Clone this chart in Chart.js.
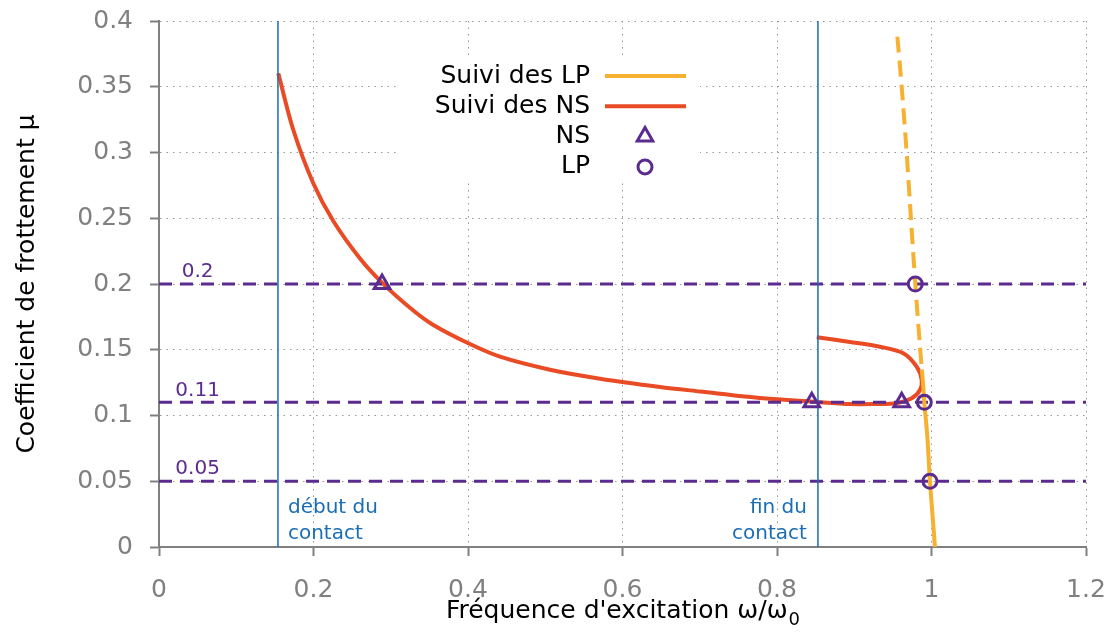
<!DOCTYPE html>
<html lang="fr">
<head>
<meta charset="UTF-8">
<title>Suivi des LP et des NS</title>
<script src="https://cdn.jsdelivr.net/npm/chart.js"></script>
<style>
    html, body { margin: 0; padding: 0; background: #ffffff; }
    .chart-container { position: relative; width: 1115px; height: 633px; }
</style>
</head>
<body>
<div class="chart-container"><canvas id="frottementChart"></canvas></div>
<script>
// courbe de suivi des NS (branche basse puis repli)
const nsX = [0.1544, 0.1739, 0.1997, 0.2256, 0.2602, 0.2896, 0.3292, 0.3551, 0.4004, 0.4414, 0.5061, 0.5709, 0.6485, 0.7003, 0.7823, 0.847, 0.8945, 0.9247, 0.955, 0.9744, 0.9851, 0.9873, 0.9808, 0.9635, 0.9333, 0.8945, 0.8514];
const nsY = [0.3602, 0.3171, 0.2766, 0.2479, 0.2194, 0.2005, 0.1798, 0.1688, 0.1549, 0.1447, 0.1348, 0.128, 0.1217, 0.1183, 0.1131, 0.1105, 0.1087, 0.1087, 0.1093, 0.1131, 0.1194, 0.127, 0.1371, 0.1473, 0.1523, 0.1559, 0.1595];

// courbe de suivi des LP : partie instable (pointillés) puis stable
const lpDashX = [0.9558, 0.9614, 0.9679, 0.9735, 0.979, 0.9851, 0.9875];
const lpDashY = [0.3881, 0.35, 0.2994, 0.2487, 0.2005, 0.1523, 0.135];
const lpSolidX = [0.9875, 0.9894, 0.9907, 0.9946, 0.998, 1.0045];
const lpSolidY = [0.135, 0.1219, 0.11, 0.0839, 0.05, 0];

// points NS et LP calculés
const nsPtX = [0.2887, 0.845, 0.9614];
const nsPtY = [0.2, 0.11, 0.11];
const lpPtX = [0.979, 0.9907, 0.998];
const lpPtY = [0.2, 0.11, 0.05];

// niveaux de frottement étudiés
const muLevels = [0.2, 0.11, 0.05];
const muLabels = ['0.2', '0.11', '0.05'];
const muLabelX = 0.05;

// début / fin du contact
const contactX = [0.154, 0.853];
const contactLabels = [['début du', 'contact'], ['fin du', 'contact']];

const legendLabels = ['Suivi des LP', 'Suivi des NS', 'NS', 'LP'];
const xTitle = "Fréquence d'excitation ω/ω";
const xTitleSub = '0';
const yTitle = 'Coefficient de frottement μ';

const FONT = "'DejaVu Sans', Verdana, sans-serif";
const ORANGE = '#f6b131';
const RED = '#e94b25';
const PURPLE = '#5c2b8f';
const BLUE = '#1a6db4';
const GREY = '#808080';

const pts = (xs, ys) => xs.map((x, i) => ({ x: x, y: ys[i] }));
const fmt = v => String(Math.round(v * 100) / 100);

const datasets = [
    {
        label: 'LP', data: pts(lpPtX, lpPtY), showLine: false,
        pointStyle: 'circle', pointRadius: 7, pointBorderWidth: 3,
        borderColor: PURPLE, backgroundColor: 'rgba(0,0,0,0)'
    },
    {
        label: 'NS', data: pts(nsPtX, nsPtY), showLine: false,
        pointStyle: 'triangle', pointRadius: 9, pointBorderWidth: 3,
        borderColor: PURPLE, backgroundColor: 'rgba(0,0,0,0)'
    },
    {
        label: 'Suivi des LP (instable)', data: pts(lpDashX, lpDashY), showLine: true,
        borderColor: ORANGE, borderWidth: 4, borderDash: [16, 8], pointRadius: 0, tension: 0.3
    },
    {
        label: 'Suivi des LP', data: pts(lpSolidX, lpSolidY), showLine: true,
        borderColor: ORANGE, borderWidth: 4, pointRadius: 0, tension: 0.3
    }
];

contactX.forEach((cx, i) => {
    datasets.push({
        label: 'contact ' + i, data: [{ x: cx, y: 0 }, { x: cx, y: 0.4 }], showLine: true,
        borderColor: BLUE, borderWidth: 1.5, pointRadius: 0
    });
});

muLevels.forEach(mu => {
    datasets.push({
        label: 'mu ' + mu, data: [{ x: 0, y: mu }, { x: 1.2, y: mu }], showLine: true,
        borderColor: PURPLE, borderWidth: 3, borderDash: [13, 8], pointRadius: 0
    });
});

datasets.push({
    label: 'Suivi des NS', data: pts(nsX, nsY), showLine: true,
    borderColor: RED, borderWidth: 4, pointRadius: 0, tension: 0.3
});

// légende, titres et annotations dessinés à la main (style gnuplot)
const annotations = {
    id: 'annotations',
    afterDatasetsDraw(chart) {
        const ctx = chart.ctx;
        const area = chart.chartArea;
        const xs = chart.scales.x, ys = chart.scales.y;
        ctx.save();

        // niveaux de mu
        ctx.font = '20px ' + FONT;
        ctx.fillStyle = PURPLE;
        ctx.textAlign = 'center';
        ctx.textBaseline = 'middle';
        muLevels.forEach((mu, i) => {
            ctx.fillText(muLabels[i], xs.getPixelForValue(muLabelX), ys.getPixelForValue(mu) - 12);
        });

        // contact
        ctx.fillStyle = BLUE;
        const y0 = ys.getPixelForValue(0);
        contactX.forEach((cx, i) => {
            const px = xs.getPixelForValue(cx);
            ctx.textAlign = i === 0 ? 'left' : 'right';
            const tx = i === 0 ? px + 10 : px - 11;
            contactLabels[i].forEach((t, k) => {
                ctx.fillText(t, tx, y0 - 39 + k * 26);
            });
        });

        // titre de l'axe x avec indice
        ctx.fillStyle = '#000000';
        ctx.textBaseline = 'alphabetic';
        ctx.textAlign = 'left';
        ctx.font = '25px ' + FONT;
        const wMain = ctx.measureText(xTitle).width;
        ctx.font = '18px ' + FONT;
        const wSub = ctx.measureText(xTitleSub).width;
        const tx0 = (area.left + area.right) / 2 - (wMain + wSub) / 2;
        ctx.font = '25px ' + FONT;
        ctx.fillText(xTitle, tx0, 618);
        ctx.font = '18px ' + FONT;
        ctx.fillText(xTitleSub, tx0 + wMain + 1, 625);

        // légende
        ctx.fillStyle = '#ffffff';
        ctx.fillRect(400, 57, 300, 126);
        ctx.font = '25px ' + FONT;
        ctx.textBaseline = 'middle';
        ctx.textAlign = 'right';
        const sx0 = 605, sx1 = 686, mx = 645;
        legendLabels.forEach((t, i) => {
            const ly = 76 + i * 30.3;
            ctx.fillStyle = '#000000';
            ctx.fillText(t, 590, ly);
            if (i < 2) {
                ctx.strokeStyle = i === 0 ? ORANGE : RED;
                ctx.lineWidth = 4;
                ctx.beginPath();
                ctx.moveTo(sx0, ly);
                ctx.lineTo(sx1, ly);
                ctx.stroke();
            } else {
                ctx.fillStyle = 'rgba(0,0,0,0)';
                ctx.strokeStyle = PURPLE;
                ctx.lineWidth = 3;
                Chart.helpers.drawPoint(ctx, {
                    pointStyle: i === 2 ? 'triangle' : 'circle',
                    radius: i === 2 ? 9 : 7,
                    borderWidth: 3, rotation: 0
                }, mx, ly);
            }
        });
        ctx.restore();
    }
};

const ctx = document.getElementById('frottementChart').getContext('2d');
const chart = new Chart(ctx, {
    type: 'scatter',
    data: { datasets: datasets },
    options: {
        responsive: true,
        maintainAspectRatio: false,
        animation: false,
        layout: { padding: { top: 21, right: 29, left: 0, bottom: 0 } },
        plugins: {
            legend: { display: false },
            tooltip: { enabled: false }
        },
        scales: {
            x: {
                type: 'linear', min: 0, max: 1.2,
                ticks: { stepSize: 0.2, color: GREY, padding: 19, font: { family: FONT, size: 25 }, callback: fmt },
                grid: { color: '#969696', lineWidth: 1, tickLength: 9, tickColor: GREY, tickWidth: 2 },
                border: { color: GREY, width: 2, dash: [1.5, 5] },
                title: { display: false },
                afterFit: s => { s.height = 86; s.paddingLeft = 0; s.paddingRight = 0; }
            },
            y: {
                type: 'linear', min: 0, max: 0.4,
                ticks: { stepSize: 0.05, color: GREY, padding: 17, font: { family: FONT, size: 25 }, callback: fmt },
                grid: { color: '#969696', lineWidth: 1, tickLength: 9, tickColor: GREY, tickWidth: 2 },
                border: { color: GREY, width: 2, dash: [1.5, 5] },
                title: {
                    display: true, text: yTitle, color: '#000000',
                    font: { family: FONT, size: 25 }, padding: { top: 12, bottom: 0 }
                },
                afterFit: s => { s.width = 159; s.paddingTop = 0; s.paddingBottom = 0; }
            }
        }
    },
    plugins: [annotations]
});
</script>
</body>
</html>
